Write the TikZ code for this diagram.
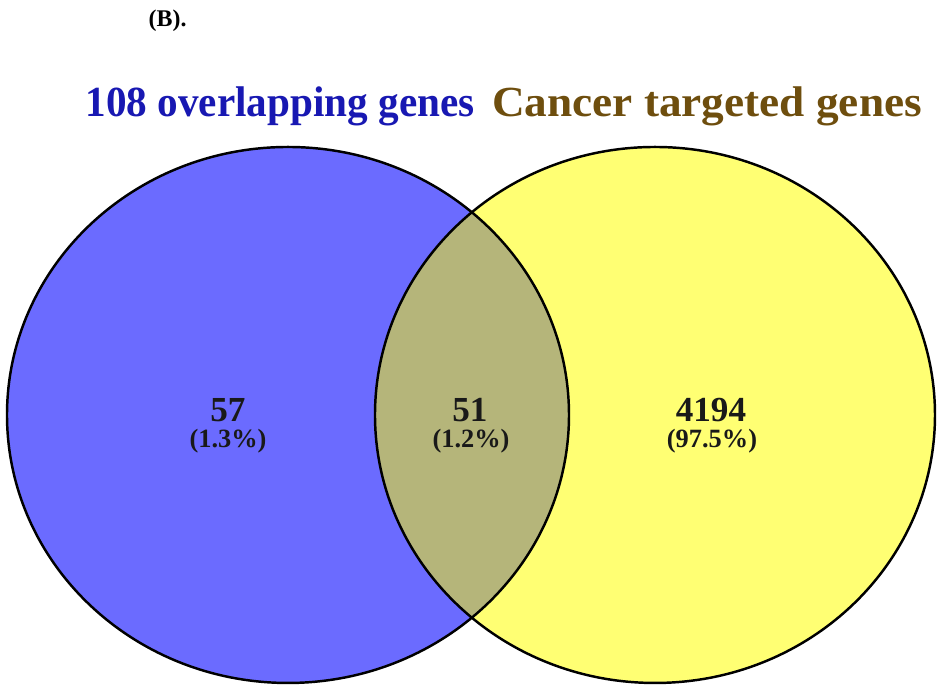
\documentclass[tikz,border=0pt]{standalone}
\usepackage{fontspec}
\setmainfont{Liberation Serif}
\usetikzlibrary{positioning}
\definecolor{setBlue}{RGB}{107,107,255}
\definecolor{setYellow}{RGB}{255,255,115}
\definecolor{setOlive}{RGB}{181,181,122}
\definecolor{titleBlue}{RGB}{24,24,178}
\definecolor{titleBrown}{RGB}{110,78,14}
\tikzset{
  setTitle/.style={font=\fontsize{12.2}{14}\selectfont\bfseries, anchor=base, inner sep=0pt},
  countLabel/.style={font=\fontsize{10}{12}\selectfont\bfseries, anchor=base, inner sep=0pt, text=black!90},
  pctLabel/.style={font=\fontsize{7.5}{9}\selectfont\bfseries, anchor=base, inner sep=0pt, text=black!90},
  setLine/.style={draw=black, line width=0.7pt}
}
\begin{document}
\begin{tikzpicture}[x=0.01cm, y=0.01cm]
  \useasboundingbox (0,0) rectangle (947,692);
  % the two sets
  \fill[setBlue] (288,277) ellipse [x radius=281, y radius=268];
  \fill[setYellow] (655,277) ellipse [x radius=280, y radius=268];
  \begin{scope}
    \clip (288,277) ellipse [x radius=281, y radius=268];
    \fill[setOlive] (655,277) ellipse [x radius=280, y radius=268];
  \end{scope}
  \draw[setLine] (288,277) ellipse [x radius=281, y radius=268];
  \draw[setLine] (655,277) ellipse [x radius=280, y radius=268];
  % titles
  \node[font=\fontsize{6.8}{8}\selectfont\bfseries, anchor=base west, inner sep=0pt] (panel) at (148,665) {(B).};
  \node[setTitle, text=titleBlue] (titleA) at (280,575) {\scalebox{0.96}[1]{108 overlapping genes}};
  \node[setTitle, text=titleBrown] (titleB) at (707,575) {\scalebox{1.055}[1]{Cancer targeted genes}};
  % counts
  \node[countLabel] (onlyA) at (228,270) {57};
  \node[pctLabel] (onlyApct) at (228,244) {(1.3\%)};
  \node[countLabel] (both) at (470,270) {51};
  \node[pctLabel] (bothpct) at (471,244) {(1.2\%)};
  \node[countLabel] (onlyB) at (711,270) {4194};
  \node[pctLabel] (onlyBpct) at (712,244) {(97.5\%)};
\end{tikzpicture}
\end{document}
